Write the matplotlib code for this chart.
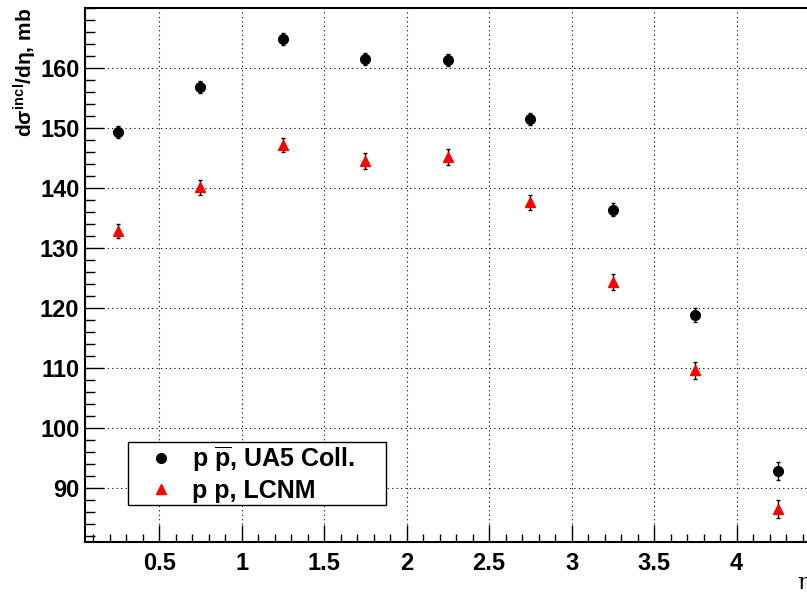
import matplotlib
matplotlib.use("Agg")
import matplotlib.pyplot as plt
from matplotlib.ticker import MultipleLocator
from matplotlib.lines import Line2D
from matplotlib.patches import Rectangle

plt.rcParams['font.family'] = ['Liberation Sans', 'DejaVu Sans']
plt.rcParams['font.weight'] = 'bold'
plt.rcParams['axes.labelweight'] = 'bold'
plt.rcParams['mathtext.fontset'] = 'custom'
plt.rcParams['mathtext.rm'] = 'Liberation Sans:bold'
plt.rcParams['mathtext.it'] = 'Liberation Sans:bold'
plt.rcParams['mathtext.bf'] = 'Liberation Sans:bold'

eta = [0.25, 0.75, 1.25, 1.75, 2.25, 2.75, 3.25, 3.75, 4.25]
ua5 = [149.3, 156.8, 164.8, 161.5, 161.3, 151.5, 136.4, 118.8, 92.9]
ua5_err = [1.0, 1.0, 1.0, 1.0, 1.0, 1.0, 1.1, 1.2, 1.5]
lcnm = [132.8, 140.1, 147.2, 144.5, 145.2, 137.6, 124.3, 109.6, 86.5]
lcnm_err = [1.2, 1.2, 1.2, 1.3, 1.3, 1.3, 1.3, 1.4, 1.5]
labels = [r'p $\overline{p}$, UA5 Coll.', 'p p, LCNM']

W, H = 807, 592
fig = plt.figure(figsize=(W / 100, H / 100), dpi=100)
ax = fig.add_axes([85 / W, 50 / H, 734 / W, 534 / H])

ax.set_xlim(0.05, 4.5)
ax.set_ylim(81, 170)

ax.grid(True, which='major', color='black', linestyle=(0, (1, 3)), linewidth=0.8)
ax.set_axisbelow(True)

ax.errorbar(eta, ua5, yerr=ua5_err, fmt='o', color='black', ms=7,
            elinewidth=1, capsize=1.5, capthick=1, zorder=3)
ax.errorbar(eta, lcnm, yerr=lcnm_err, fmt='^', color='red', ms=7.5,
            ecolor='black', elinewidth=1, capsize=1.5, capthick=1, zorder=3)

ax.set_xticks([0.5, 1, 1.5, 2, 2.5, 3, 3.5, 4])
ax.set_xticklabels(['0.5', '1', '1.5', '2', '2.5', '3', '3.5', '4'])
ax.set_yticks([90, 100, 110, 120, 130, 140, 150, 160])
ax.xaxis.set_minor_locator(MultipleLocator(0.1))
ax.yaxis.set_minor_locator(MultipleLocator(2))

ax.tick_params(which='both', direction='in', top=False, right=False, width=1)
ax.tick_params(axis='y', which='major', length=14, labelsize=17, pad=4)
ax.tick_params(axis='y', which='minor', length=7)
ax.tick_params(axis='x', which='major', length=12, labelsize=17, pad=7)
ax.tick_params(axis='x', which='minor', length=6)
for s in ax.spines.values():
    s.set_linewidth(1.5)

ax.set_ylabel(r'd$\sigma^{\rm incl}$/d$\eta$, mb', fontsize=15, loc='top', labelpad=1)
fig.text(797 / W, 1 - 583 / H, 'η', fontsize=16, fontweight='normal',
         family='DejaVu Serif', ha='left', va='center')

# legend box
ax.add_patch(Rectangle((128 / W, 1 - 505 / H), 258 / W, 63 / H,
                       transform=fig.transFigure, facecolor='white',
                       edgecolor='black', linewidth=1, zorder=5, clip_on=False))
handles = [Line2D([], [], marker='o', color='black', ls='none', ms=7),
           Line2D([], [], marker='^', color='red', ls='none', ms=7.5)]
leg = ax.legend(handles, labels, loc='upper left',
                bbox_to_anchor=(148 / W, 1 - 444 / H),
                bbox_transform=fig.transFigure, borderaxespad=0, fontsize=18,
                frameon=False, handlelength=1.0, handletextpad=0.75,
                borderpad=0.0, labelspacing=0.2)
leg.set_zorder(6)

fig.savefig('out.png', dpi=100)
